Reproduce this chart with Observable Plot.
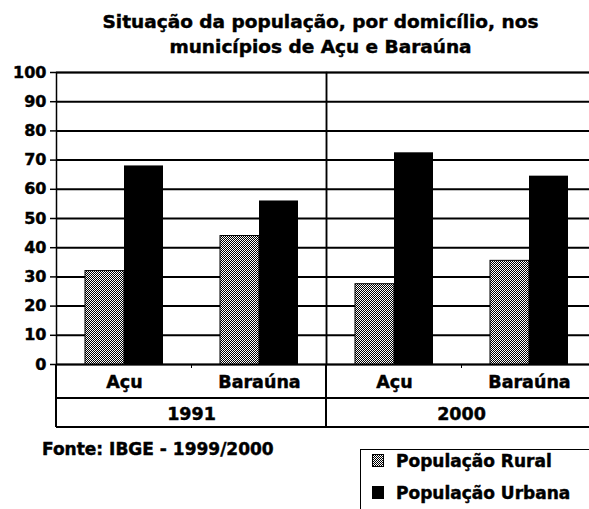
<!DOCTYPE html>
<html>
<head>
<meta charset="utf-8">
<script src="https://cdn.jsdelivr.net/npm/d3@7"></script>
<script src="https://cdn.jsdelivr.net/npm/@observablehq/plot@0.6"></script>
<style>
html, body { margin: 0; padding: 0; background: #fff; overflow: hidden; }
#page { position: relative; width: 589px; height: 509px; overflow: hidden; font-family: "DejaVu Sans", sans-serif; font-weight: bold; color: #000; -webkit-text-stroke: 0.45px #000; }
#title { position: absolute; left: 52px; top: 0; width: 537px; text-align: center; font-size: 18.5px; line-height: 25px; padding-top: 9px; white-space: nowrap; }
#chart { position: absolute; left: 0; top: 60px; }
#chart svg { max-width: none !important; }
#chart svg text { stroke: #000; stroke-width: 0.45px; }
#source { position: absolute; left: 42px; top: 440.6px; font-size: 17px; line-height: 1; white-space: nowrap; }
#legend { position: absolute; left: 360px; top: 449px; width: 260px; height: 80px; border: 1px solid #000; box-sizing: border-box; }
.item { position: absolute; left: 11px; font-size: 17px; line-height: 1; white-space: nowrap; }
.item svg { position: absolute; left: 0; top: 1px; }
.item span { position: absolute; left: 24px; top: 0; }
</style>
</head>
<body>
<div id="page">
  <div id="title">Situação da população, por domicílio, nos<br>municípios de Açu e Baraúna</div>
  <div id="chart"></div>
  <div id="source">Fonte: IBGE - 1999/2000</div>
  <div id="legend"></div>
</div>
<script>
// ---- data ----
const years = ["1991", "2000"];
const municipios = ["Açu", "Baraúna"];
const seriesNames = ["População Rural", "População Urbana"];
// order: 1991 Açu, 1991 Baraúna, 2000 Açu, 2000 Baraúna
const groupYear = ["1991", "1991", "2000", "2000"];
const groupMun = ["Açu", "Baraúna", "Açu", "Baraúna"];
const ruralValues = [32, 44, 27.5, 35.5];
const urbanValues = [68, 56, 72.5, 64.5];
const yTicks = [0, 10, 20, 30, 40, 50, 60, 70, 80, 90, 100];

const ruralRows = ruralValues.map((v, i) => ({year: groupYear[i], mun: groupMun[i], value: v}));
const urbanRows = urbanValues.map((v, i) => ({year: groupYear[i], mun: groupMun[i], value: v}));

const plot = Plot.plot({
  width: 600,
  height: 372,
  marginLeft: 55,
  marginRight: 4,
  marginTop: 12,
  marginBottom: 68,
  style: {fontFamily: "DejaVu Sans", fontWeight: "bold", color: "black", background: "white", fontSize: "16px", overflow: "visible"},
  fx: {domain: years, padding: 0, label: null},
  x: {domain: municipios, paddingInner: 0.424, paddingOuter: 0.212, label: null},
  y: {domain: [0, 100], label: null},
  marks: [
    Plot.ruleY(yTicks, {stroke: "black", strokeWidth: 2}),
    Plot.frame({stroke: "black", strokeWidth: 1.5}),
    Plot.barY(ruralRows, {fx: "year", x: "mun", y: "value", fill: "url(#checker)", stroke: "black", strokeWidth: 1, insetRight: 39}),
    Plot.barY(urbanRows, {fx: "year", x: "mun", y: "value", fill: "black", insetLeft: 39}),
    Plot.axisY({ticks: yTicks, tickSize: 6, tickPadding: 4, fontSize: 16, fontWeight: "bold", stroke: "black", strokeWidth: 1.5, label: null}),
    Plot.axisX({anchor: "bottom", tickSize: 0, tickPadding: 11, fontSize: 17.5, fontWeight: "bold", label: null}),
    Plot.axisFx({anchor: "bottom", tickSize: 0, tickPadding: 43, fontSize: 17.5, fontWeight: "bold", label: null})
  ]
});

const svg = d3.select(plot);
const defs = svg.insert("defs", ":first-child");
const pat = defs.append("pattern").attr("id", "checker").attr("width", 2).attr("height", 2).attr("patternUnits", "userSpaceOnUse");
pat.append("rect").attr("width", 2).attr("height", 2).attr("fill", "white");
pat.append("rect").attr("width", 1).attr("height", 1).attr("fill", "black");
pat.append("rect").attr("x", 1).attr("y", 1).attr("width", 1).attr("height", 1).attr("fill", "black");

// table lines below the axis (category / year rows), from Plot's scales
const fxS = plot.scale("fx"), xS = plot.scale("x"), yS = plot.scale("y");
const y0 = yS.apply(0);
const rowSep = y0 + 34, rowBottom = y0 + 63;
const g = svg.append("g").attr("stroke", "black").attr("shape-rendering", "crispEdges");
const x0 = fxS.apply(years[0]);
const xEnd = fxS.apply(years[years.length - 1]) + fxS.bandwidth;
years.forEach(yr => {
  const left = fxS.apply(yr), right = left + fxS.bandwidth;
  [left, right].forEach(xx => g.append("line").attr("x1", xx).attr("x2", xx).attr("y1", y0).attr("y2", rowBottom).attr("stroke-width", 1.5));
  const rel = (xS.apply(municipios[0]) + xS.apply(municipios[1]) + xS.bandwidth) / 2 - xS.range[0];
  g.append("line").attr("x1", left + rel).attr("x2", left + rel).attr("y1", y0).attr("y2", y0 + 4).attr("stroke-width", 1.5);
});
[rowSep, rowBottom].forEach(yy => g.append("line").attr("x1", x0).attr("x2", xEnd).attr("y1", yy).attr("y2", yy).attr("stroke-width", 2));

document.getElementById("chart").appendChild(plot);

// legend
const legend = document.getElementById("legend");
const swatchFills = ["url(#checker)", "black"];
seriesNames.forEach((name, i) => {
  const item = document.createElement("div");
  item.className = "item";
  item.style.top = (2.6 + i * 32) + "px";
  item.innerHTML = `<svg width="12" height="13"><rect x="0.5" y="0.5" width="11" height="12" fill="${swatchFills[i]}" stroke="black" stroke-width="1"/></svg><span>${name}</span>`;
  legend.appendChild(item);
});
</script>
</body>
</html>
